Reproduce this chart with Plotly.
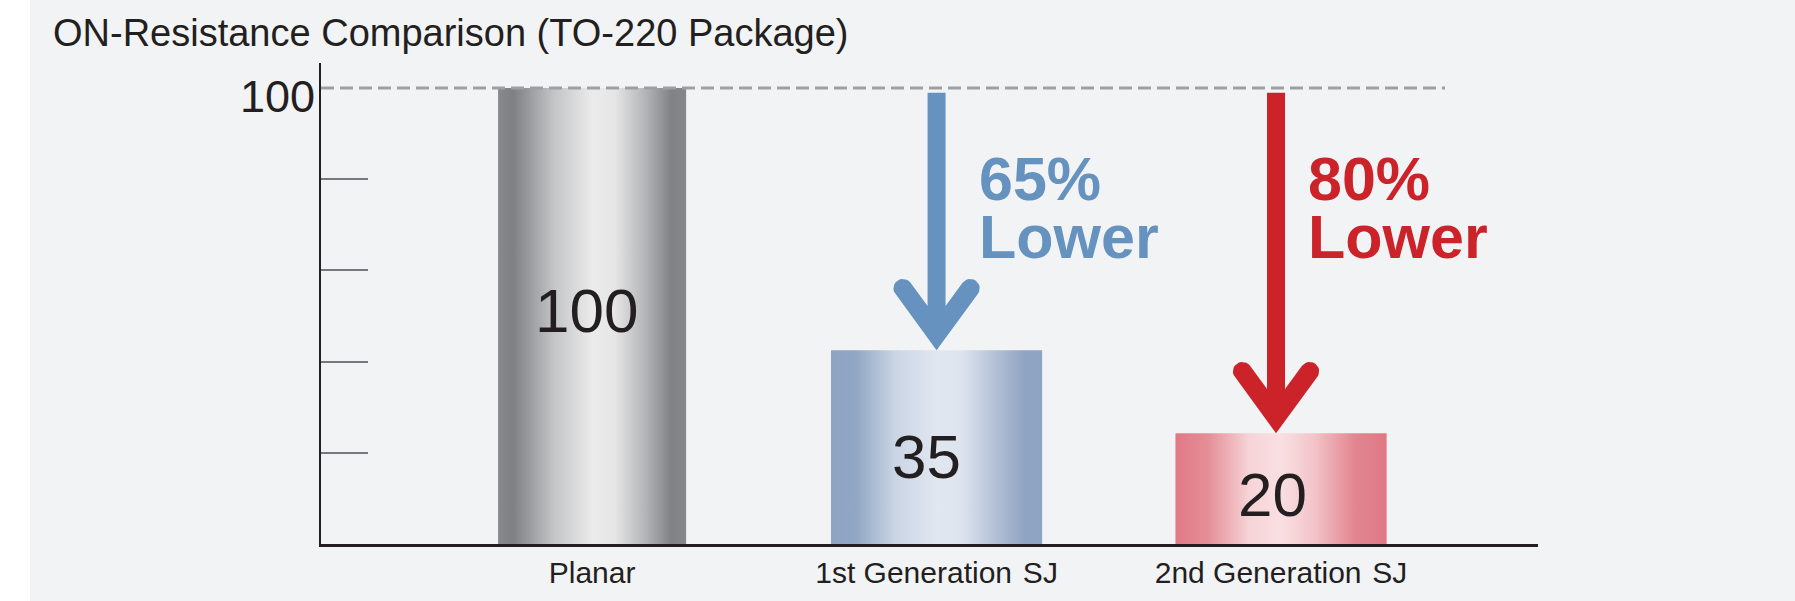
import math
import plotly.graph_objects as go

# ---------------- data ----------------
categories = ["Planar", "1st Generation\u200a SJ", "2nd Generation\u200a SJ"]
values = [100, 35, 20]              # relative ON-resistance printed on the bars
drawn_heights = [100, 42.5, 24.3]   # bar heights as drawn on the chart's (illustrative) axis
y_ticks = [20, 40, 60, 80]
y_axis_label_value = 100
title_text = "ON-Resistance Comparison (TO-220 Package)"

# ---------------- style ----------------
W, H = 1795, 601
M_L, M_R, M_T, M_B = 321, 257, 63, 52
PLOT_W = W - M_L - M_R
PLOT_H = H - M_T - M_B
X_RANGE = [-0.787, 2.746]
Y_RANGE = [0, 105.5]
PX_X = PLOT_W / (X_RANGE[1] - X_RANGE[0])
PX_Y = PLOT_H / (Y_RANGE[1] - Y_RANGE[0])

FONT = "Liberation Sans, Arial, Helvetica, sans-serif"
TEXT_DARK = "#231f20"
BG = "#f2f3f5"
BAR_WIDTHS = [0.546, 0.613, 0.613]
LABEL_Y = [51.3, 19.2, 10.9]
LABEL_XSHIFT = [-6, -10, -9]
GRADIENTS = [
    [[0, "#88898c"], [0.08, "#7f8083"], [0.3, "#c4c5c7"], [0.5, "#ebebeb"],
     [0.62, "#e6e6e7"], [0.8, "#aeafb2"], [0.92, "#818285"], [1, "#86878a"]],
    [[0, "#8ea4c3"], [0.12, "#92a7c5"], [0.3, "#c9d4e4"], [0.5, "#e1e7f0"],
     [0.62, "#dde4ee"], [0.8, "#aebbd3"], [0.92, "#8fa4c3"], [1, "#8ea4c3"]],
    [[0, "#e07a85"], [0.15, "#e48d96"], [0.35, "#f6d4d7"], [0.5, "#f9dfe2"],
     [0.65, "#f2c6ca"], [0.85, "#e28691"], [1, "#df7884"]],
]
ARROW_COLORS = {1: "#6592be", 2: "#cc2229"}
ARROW_XSHIFT_PX = {1: 0, 2: -5}
TEXT_XSHIFT_PX = {1: 41, 2: 26}
TEXT_CENTER_PX = 209.8     # vertical centre of the two-line reduction text
ARROW_TOP = 99.0
SHAFT_HALF = 9.0
ARM_T = 19.0
ARM_L = 70.4
ARM_DIR = (41.4, 57.0)


def arrow_polygon(xc, y_top, y_tip, xshift_px):
    """Arrow outline in data coordinates: shaft + rounded chevron head."""
    n = math.hypot(*ARM_DIR)
    d = (ARM_DIR[0] / n, ARM_DIR[1] / n)          # wing end -> tip (screen, y down)
    nin = (d[1], -d[0])                           # inward normal
    cx = ARM_T / 2 * nin[0] - ARM_L * d[0]
    cy = ARM_T / 2 * nin[1] - ARM_L * d[1]
    t = (-SHAFT_HALF - ARM_T * nin[0]) / d[0]
    jx, jy = -SHAFT_HALF, ARM_T * nin[1] + t * d[1]
    shaft_top_px = -(y_top - y_tip) * PX_Y
    left = [(0.0, 0.0)]
    for k in range(13):
        th = math.pi * k / 12
        left.append((cx + ARM_T / 2 * (-math.cos(th) * nin[0] - math.sin(th) * d[0]),
                     cy + ARM_T / 2 * (-math.cos(th) * nin[1] - math.sin(th) * d[1])))
    left.append((jx, jy))
    left.append((-SHAFT_HALF, shaft_top_px))
    right = [(-px, py) for px, py in reversed(left[1:])]
    pts = left + right + [(0.0, 0.0)]
    xs = [xc + (px + xshift_px) / PX_X for px, py in pts]
    ys = [y_tip - py / PX_Y for px, py in pts]
    return xs, ys


fig = go.Figure()

# bars (gradient-filled rectangles on the data axes)
for i, (h, w) in enumerate(zip(drawn_heights, BAR_WIDTHS)):
    x0, x1 = i - w / 2, i + w / 2
    fig.add_trace(go.Scatter(
        x=[x0, x1, x1, x0, x0], y=[0, 0, h, h, 0],
        mode="lines", line=dict(width=0), fill="toself",
        fillgradient=dict(type="horizontal", colorscale=GRADIENTS[i]),
        hoverinfo="text", text=f"{categories[i]}: {values[i]}", showlegend=False))

# reduction arrows
for i in (1, 2):
    xs, ys = arrow_polygon(i, ARROW_TOP, drawn_heights[i], ARROW_XSHIFT_PX[i])
    fig.add_trace(go.Scatter(x=xs, y=ys, mode="lines", line=dict(width=0),
                             fill="toself", fillcolor=ARROW_COLORS[i],
                             hoverinfo="skip", showlegend=False))

annotations = []
# values on bars
for i, v in enumerate(values):
    annotations.append(dict(x=i, y=LABEL_Y[i], xref="x", yref="y", text=str(v),
                            showarrow=False, xanchor="center", yanchor="middle",
                            xshift=LABEL_XSHIFT[i],
                            font=dict(family=FONT, size=62, color=TEXT_DARK)))
# reduction texts (one text block; base size sets the tight line spacing)
for i in (1, 2):
    pct = round(100 - values[i] / values[0] * 100)
    big = "<span style='font-size:61px'>{}</span>"
    annotations.append(dict(x=i, y=(H - M_B - TEXT_CENTER_PX) / PX_Y, xref="x", yref="y",
                            text="<b>" + big.format(f"{pct}%") + "<br>" + big.format("Lower") + "</b>",
                            showarrow=False, xanchor="left", yanchor="middle", align="left",
                            xshift=TEXT_XSHIFT_PX[i], borderpad=0,
                            font=dict(family=FONT, size=44.5, color=ARROW_COLORS[i])))
# y-axis "100" label
annotations.append(dict(x=0, y=y_axis_label_value, xref="paper", yref="y",
                        text=str(y_axis_label_value), showarrow=False,
                        xanchor="right", yanchor="middle", xshift=-4, yshift=-8,
                        font=dict(family=FONT, size=45, color=TEXT_DARK)))

shapes = [
    # light panel background (white strip on the far left)
    dict(type="rect", xref="paper", yref="paper",
         x0=(30 - M_L) / PLOT_W, x1=1.5, y0=-0.5, y1=1.5,
         fillcolor=BG, line=dict(width=0), layer="below"),
    # dashed 100 reference line
    dict(type="line", xref="paper", yref="y", x0=0, x1=(1445 - M_L) / PLOT_W,
         y0=y_axis_label_value, y1=y_axis_label_value,
         line=dict(color="#9d9fa2", width=3, dash="13px,6px"), layer="above"),
]

fig.update_layout(
    width=W, height=H,
    margin=dict(l=M_L, r=M_R, t=M_T, b=M_B, pad=0),
    paper_bgcolor="white", plot_bgcolor="rgba(0,0,0,0)",
    title=dict(text=title_text, x=53 / W, xref="container", xanchor="left",
               y=1 - 32.2 / H, yref="container", yanchor="middle",
               font=dict(family=FONT, size=38, color=TEXT_DARK)),
    showlegend=False,
    annotations=annotations,
    shapes=shapes,
    xaxis=dict(range=X_RANGE, tickmode="array", tickvals=list(range(len(categories))),
               ticktext=categories, ticks="", showgrid=False, zeroline=False,
               showline=True, linecolor=TEXT_DARK, linewidth=2.5,
               tickfont=dict(family=FONT, size=30, color=TEXT_DARK),
               fixedrange=True),
    yaxis=dict(range=Y_RANGE, tickmode="array", tickvals=y_ticks, ticks="inside",
               ticklen=47, tickwidth=1.5, tickcolor="#77787b", showticklabels=False,
               showgrid=False, zeroline=False, showline=True, linecolor=TEXT_DARK,
               linewidth=1.5, fixedrange=True),
)

fig.write_html("out.html", config={"displayModeBar": False},
               post_script="document.body.style.margin='0';")
